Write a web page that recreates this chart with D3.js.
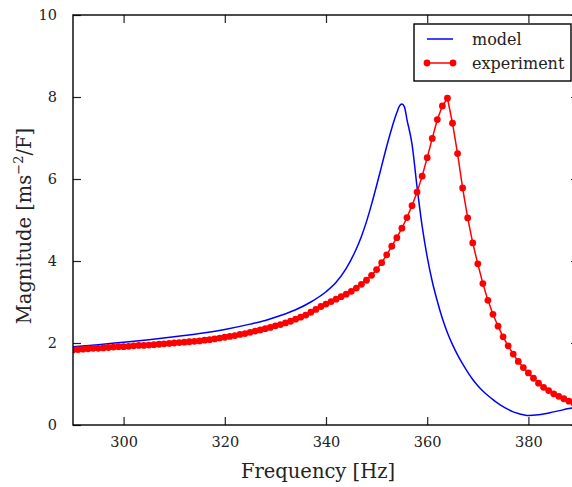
<!DOCTYPE html>
<html>
<head>
<meta charset="utf-8">
<script src="https://cdn.jsdelivr.net/npm/d3@7"></script>
<style>
body{margin:0;background:#fff;}
text{font-family:"DejaVu Serif",serif;fill:#222;}
</style>
</head>
<body>
<script>
//数据: 模型曲线
let modelFreq=[290,295,300,305,310,315,320,325,328,331,334,337,340,342,344,346,347,348,349,350,351,352,353,354,354.5,355,355.5,356,357,358,359,360,361,362,363,364,365,366,367,368,369,370,371,372,373,374,375,376,377,378,379,380,382,385,388,390];
let modelMag=[1.91,1.96,2.02,2.08,2.15,2.23,2.33,2.46,2.55,2.67,2.81,3.00,3.25,3.48,3.82,4.30,4.60,4.96,5.38,5.84,6.32,6.80,7.24,7.62,7.78,7.83,7.76,7.45,6.85,5.80,4.85,4.10,3.50,3.02,2.60,2.25,1.96,1.71,1.49,1.29,1.11,0.96,0.83,0.72,0.62,0.53,0.45,0.38,0.32,0.28,0.25,0.23,0.25,0.32,0.40,0.45];
//数据: 实验点 (290Hz - 390Hz, 每1Hz)
let expFreq=d3.range(290,391);
let expMag=[1.83,1.84,1.85,1.86,1.87,1.87,1.88,1.89,1.90,1.91,
1.91,1.92,1.93,1.94,1.94,1.95,1.96,1.97,1.98,1.99,
2.00,2.01,2.02,2.03,2.04,2.05,2.07,2.08,2.10,2.12,
2.14,2.16,2.18,2.21,2.23,2.26,2.29,2.32,2.35,2.38,
2.42,2.45,2.49,2.53,2.58,2.63,2.68,2.75,2.82,2.89,
2.95,3.01,3.07,3.13,3.19,3.26,3.34,3.43,3.53,3.65,
3.79,3.96,4.15,4.36,4.57,4.80,5.06,5.35,5.68,6.07,
6.52,6.99,7.45,7.78,7.97,7.36,6.62,5.78,5.05,4.44,
3.93,3.45,3.04,2.70,2.41,2.15,1.93,1.73,1.55,1.40,
1.27,1.14,1.02,0.92,0.84,0.76,0.70,0.64,0.58,0.53,0.49];
let xTicks=[300,320,340,360,380];
let yTicks=[0,2,4,6,8,10];
let seriesNames=["model","experiment"];

//画布
let width=572,height=487;
let pLeft=73,pRight=579,pTop=15,pBottom=425;
let svg=d3.select("body").append("svg").attr("width",width).attr("height",height);

let x=d3.scaleLinear().domain([290,390]).range([pLeft,pRight]);
let y=d3.scaleLinear().domain([0,10]).range([pBottom,pTop]);

svg.append("clipPath").attr("id","clip").append("rect")
    .attr("x",pLeft).attr("y",pTop).attr("width",pRight-pLeft).attr("height",pBottom-pTop);

//曲线
let plot=svg.append("g").attr("clip-path","url(#clip)");
let model=modelFreq.map((f,i)=>({f:f,m:modelMag[i]}));
let exp=expFreq.map((f,i)=>({f:f,m:expMag[i]}));

plot.append("path").datum(model)
    .attr("d",d3.line().x(d=>x(d.f)).y(d=>y(d.m)).curve(d3.curveMonotoneX))
    .attr("fill","none").attr("stroke","#0000ff").attr("stroke-width",1.5);

plot.append("path").datum(exp)
    .attr("d",d3.line().x(d=>x(d.f)).y(d=>y(d.m)))
    .attr("fill","none").attr("stroke","#ff0000").attr("stroke-width",1.5);

plot.selectAll("circle").data(exp).enter().append("circle")
    .attr("cx",d=>x(d.f)).attr("cy",d=>y(d.m)).attr("r",3.4)
    .attr("fill","#ff0000");

//坐标轴 (刻度朝内, 四边)
let tl=8;
svg.append("g").attr("transform",`translate(0,${pBottom})`)
    .call(d3.axisBottom(x).tickValues(xTicks).tickSizeInner(-tl).tickSizeOuter(0).tickPadding(12));
svg.append("g").attr("transform",`translate(0,${pTop})`)
    .call(d3.axisTop(x).tickValues(xTicks).tickSizeInner(-tl).tickSizeOuter(0).tickFormat(""));
svg.append("g").attr("transform",`translate(${pLeft},0)`)
    .call(d3.axisLeft(y).tickValues(yTicks).tickSizeInner(-tl).tickSizeOuter(0).tickPadding(16));
svg.append("g").attr("transform",`translate(${pRight},0)`)
    .call(d3.axisRight(y).tickValues(yTicks).tickSizeInner(-tl).tickSizeOuter(0).tickFormat(""));

svg.selectAll(".tick line").attr("stroke","#222").attr("stroke-width",1.2);
svg.selectAll(".domain").remove();
svg.selectAll(".tick text").style("font-family","'DejaVu Serif',serif").style("font-size","14.5px").attr("fill","#222");

//边框
svg.append("rect").attr("x",pLeft).attr("y",pTop).attr("width",pRight-pLeft).attr("height",pBottom-pTop)
    .attr("fill","none").attr("stroke","#000").attr("stroke-width",1.4);

//轴标题
svg.append("text").attr("x",(pLeft+pRight)/2-8).attr("y",478).attr("text-anchor","middle")
    .style("font-size","19.5px").text("Frequency [Hz]");
let yl=svg.append("text").attr("transform",`translate(31,${(pTop+pBottom)/2+6}) rotate(-90)`)
    .attr("text-anchor","middle").style("font-size","19.5px");
yl.append("tspan").text("Magnitude [ms");
yl.append("tspan").attr("dy",-8).style("font-size","13px").text("\u22122");
yl.append("tspan").attr("dy",8).text("/F]");

//图例
let lg=svg.append("g");
lg.append("rect").attr("x",414).attr("y",24).attr("width",157).attr("height",57)
    .attr("fill","#fff").attr("stroke","#000").attr("stroke-width",1.4);
lg.append("line").attr("x1",427).attr("x2",453).attr("y1",39).attr("y2",39)
    .attr("stroke","#0000ff").attr("stroke-width",1.5);
lg.append("line").attr("x1",427).attr("x2",453).attr("y1",63).attr("y2",63)
    .attr("stroke","#ff0000").attr("stroke-width",1.5);
lg.selectAll("circle").data([427,453]).enter().append("circle")
    .attr("cx",d=>d).attr("cy",63).attr("r",3.4).attr("fill","#ff0000");
lg.selectAll("text").data(seriesNames).enter().append("text")
    .attr("x",472).attr("y",(d,i)=>45+i*24).style("font-size","16px").text(d=>d);
</script>
</body>
</html>
